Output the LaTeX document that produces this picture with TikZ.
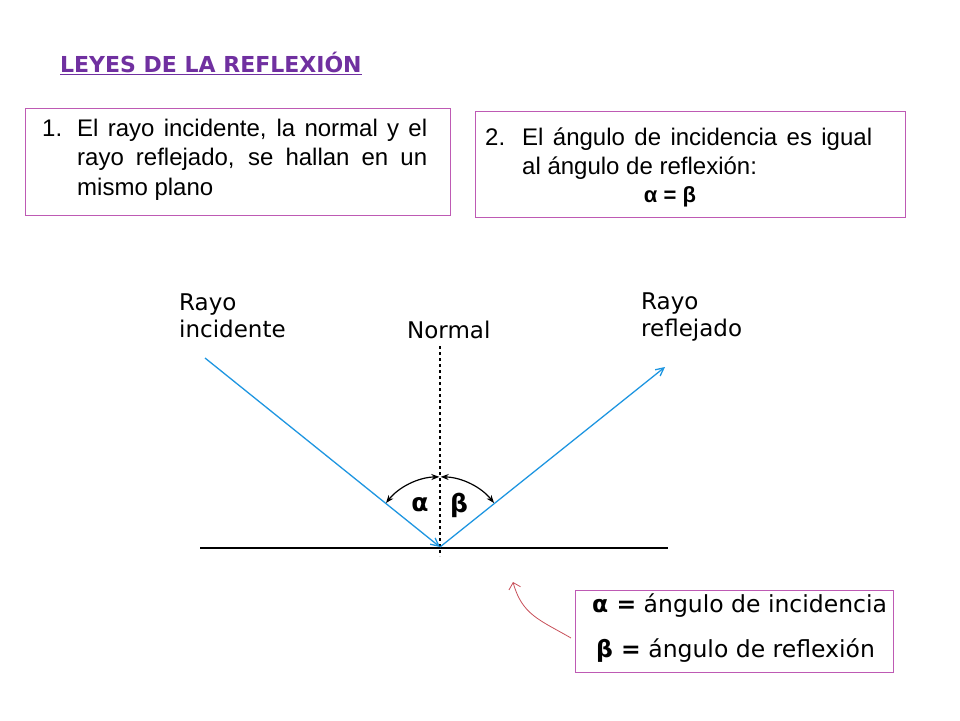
\documentclass[tikz,border=0pt]{standalone}
\usepackage{fontspec}
\setmainfont{Liberation Sans}
\newfontfamily\verd{DejaVu Sans}
\usetikzlibrary{arrows.meta}
\definecolor{boxc}{RGB}{190,90,180}
\definecolor{titc}{RGB}{112,48,160}
\definecolor{rayc}{RGB}{30,150,225}
\definecolor{redc}{RGB}{200,80,90}
\tikzset{
 lawbox/.style={draw=boxc,line width=0.8pt},
 ray/.style={rayc,line width=1.3pt,-{Straight Barb[length=8pt,width=8pt]}},
 lab/.style={font=\verd\fontsize{23}{27}\selectfont,align=left,anchor=west,inner sep=0pt},
 angarc/.style={line width=1.2pt,{Stealth[length=8pt]}-{Stealth[length=8pt]}},
 bodytxt/.style={font=\fontsize{24}{29.5}\selectfont},
}
\begin{document}
\begin{tikzpicture}[x=1pt,y=-1pt]
\useasboundingbox[fill=white] (0,0) rectangle (960,720);
\node[anchor=west,inner sep=0pt,font=\verd\bfseries\fontsize{22}{26}\selectfont,text=titc] (title) at (60,63) {\underline{LEYES DE LA REFLEXIÓN}};
\draw[lawbox] (25,108) rectangle (450,215);
\node[anchor=base west,inner sep=0pt,bodytxt] (n1) at (42,136) {1.};
\node[anchor=base west,inner sep=0pt,bodytxt,text width=350pt,align=justify] (t1) at (77,136) {El rayo incidente, la normal y el rayo reflejado, se hallan en un mismo plano};
\draw[lawbox] (475,111) rectangle (905,217);
\node[anchor=base west,inner sep=0pt,bodytxt] (n2) at (485,145) {2.};
\node[anchor=base west,inner sep=0pt,bodytxt,text width=350pt,align=justify] (t2) at (522,145) {El ángulo de incidencia es igual al ángulo de reflexión:\hfill\null};
\node[bodytxt,font=\bfseries\fontsize{22}{26}\selectfont] (t2c) at (670,197) {α = β};
% diagram
\coordinate (P) at (440,547);
\coordinate (A) at (205,358);
\coordinate (B) at (665,367);
\draw[line width=1.3pt] (200,548) -- (668,548);
\draw[dashed,line width=1.1pt] (440,346) -- (440,556);
\draw[ray] (A) -- (P);
\draw[ray] (P) -- (B);
\draw[angarc] (386,503) arc[start angle=-141.2,end angle=-91,radius=70];
\draw[angarc] (494,503) arc[start angle=-38.8,end angle=-89,radius=70];
\node[font=\verd\bfseries\fontsize{25}{26}\selectfont] (al) at (420,505) {α};
\node[font=\verd\bfseries\fontsize{25}{26}\selectfont] (be) at (459,505) {β};
\node[lab] (ri) at (179,316) {Rayo\\incidente};
\node[lab] (no) at (407,330) {Normal};
\node[lab] (rr) at (641,317) {Rayo\\reflejado};
% legend
\draw[draw=boxc,line width=0.9pt] (575,590) rectangle (893,672);
\node[anchor=west,inner sep=0pt,font=\verd\fontsize{23.5}{26}\selectfont] (l1) at (592,606) {\textbf{α =} ángulo de incidencia};
\node[anchor=west,inner sep=0pt,font=\verd\fontsize{23.5}{26}\selectfont] (l2) at (596,651) {\textbf{β =} ángulo de reflexión};
\coordinate (cs) at (571,638);
\coordinate (ce) at (513,582);
\draw[redc,line width=0.8pt,-{Straight Barb[length=6pt]}] (cs) .. controls (540,620) and (522,615) .. (ce);
\end{tikzpicture}
\end{document}
